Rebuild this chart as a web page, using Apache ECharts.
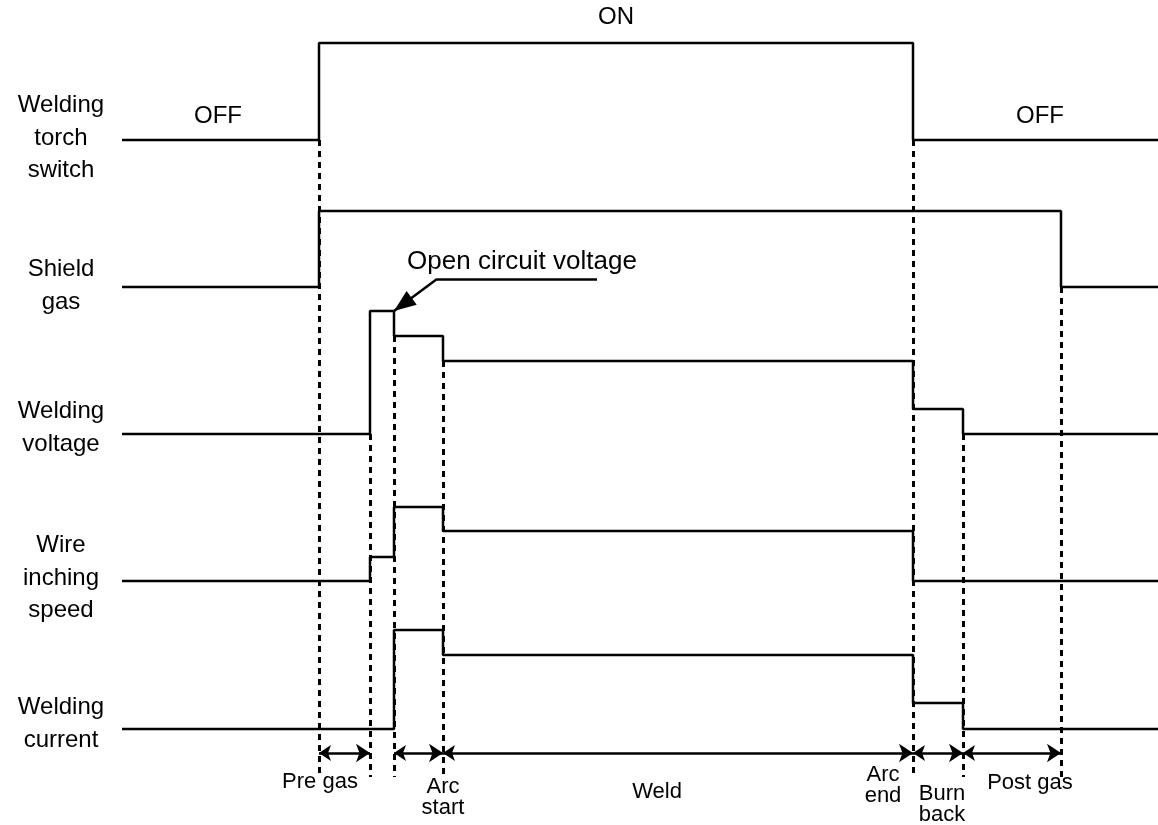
<!DOCTYPE html>
<html>
<head>
<meta charset="utf-8">
<script src="https://cdn.jsdelivr.net/npm/echarts@6/dist/echarts.min.js"></script>
<style>
html,body{margin:0;padding:0;background:#fff;}
#chart{width:1158px;height:825px;}
</style>
</head>
<body>
<div id="chart"></div>
<script>
// Event times (horizontal time axis, arbitrary units)
const eventTimes = [122, 319, 370, 394, 443, 913, 963, 1061, 1158];
// Row baselines (vertical position of each signal's zero level)
const rowBaselines = [685, 538, 391, 244, 96];
const rowNames = ['Welding\ntorch\nswitch', 'Shield\ngas', 'Welding\nvoltage', 'Wire\ninching\nspeed', 'Welding\ncurrent'];
// Signal levels from each event time onwards (step)
const torchSwitch    = [0, 97, 97, 97, 97, 0, 0, 0, 0];
const shieldGas      = [0, 76, 76, 76, 76, 76, 76, 0, 0];
const weldingVoltage = [0, 0, 123, 98, 73, 25, 0, 0, 0];
const wireSpeed      = [0, 0, 24, 74, 50, 0, 0, 0, 0];
const weldingCurrent = [0, 0, 0, 99, 74, 26, 0, 0, 0];
// Dashed guide lines: event index and top value
const guideEvents = [1, 2, 3, 4, 5, 6, 7];
const guideTops   = [685, 391, 489, 464, 685, 391, 538];
const guideBottom = 48;
// Phase intervals (event index pairs) and labels
const phaseSpans  = [[1, 2], [3, 4], [4, 5], [5, 6], [6, 7]];
const phaseLevel  = 72;
const phaseLabels = ['Pre gas', 'Arc\nstart', 'Weld', 'Arc\nend', 'Burn\nback', 'Post gas'];
// Open circuit voltage pointer
const ocvLeader = [[597, 546], [437, 546]];
const ocvArrow  = [[437, 546], [394, 514]];

const signals = [torchSwitch, shieldGas, weldingVoltage, wireSpeed, weldingCurrent];
const lineStyle = {color: '#000', width: 2.5};

const series = signals.map((lv, r) => ({
  type: 'line', step: 'end', showSymbol: false, animation: false, silent: true,
  lineStyle: lineStyle,
  data: eventTimes.map((t, i) => [t, rowBaselines[r] + lv[i]])
}));

series.push({
  type: 'lines', coordinateSystem: 'cartesian2d', animation: false, silent: true,
  symbol: 'none',
  lineStyle: {color: '#000', width: 3, type: [6, 5], opacity: 1},
  data: guideEvents.map((e, i) => ({coords: [[eventTimes[e], guideTops[i]], [eventTimes[e], guideBottom]]}))
});

series.push({
  type: 'lines', coordinateSystem: 'cartesian2d', animation: false, silent: true,
  symbol: ['arrow', 'arrow'], symbolSize: [12, 14],
  lineStyle: {color: '#000', width: 2.5, opacity: 1},
  data: phaseSpans.map(s => ({coords: [[eventTimes[s[0]], phaseLevel], [eventTimes[s[1]], phaseLevel]]}))
});

// leader line + diagonal shaft
series.push({
  type: 'lines', coordinateSystem: 'cartesian2d', animation: false, silent: true,
  symbol: 'none',
  lineStyle: {color: '#000', width: 2.5, opacity: 1},
  data: [{coords: ocvLeader}, {coords: ocvArrow}]
});
// arrow head at the tip of the diagonal pointer
const ax0 = ocvArrow[0], ax1 = ocvArrow[1];
const ang = Math.atan2(ax1[1] - ax0[1], ax1[0] - ax0[0]);
const headLen = 22;
const headCenter = [ax1[0] - Math.cos(ang) * headLen / 2, ax1[1] - Math.sin(ang) * headLen / 2];
series.push({
  type: 'scatter', animation: false, silent: true,
  symbol: 'triangle', symbolSize: [17, headLen],
  symbolRotate: ang * 180 / Math.PI - 90,
  itemStyle: {color: '#000', opacity: 1},
  data: [headCenter]
});

const chart = echarts.init(document.getElementById('chart'), null, {renderer: 'canvas'});
const FONT = '"Liberation Sans", Arial, sans-serif';

const textEl = (txt, x, y, size, lh) => ({
  type: 'text', silent: true,
  style: {text: txt, x: x, y: y, fill: '#000', font: size + 'px ' + FONT,
          textAlign: 'center', textVerticalAlign: 'middle', lineHeight: lh || size}
});

chart.setOption({
  backgroundColor: '#fff',
  animation: false,
  grid: {left: 0, right: 0, top: 0, bottom: 0},
  xAxis: {type: 'value', min: 0, max: 1158, show: false},
  yAxis: {type: 'value', min: 0, max: 825, show: false},
  series: series
});

const labelX = 61;
const rowTextY = [138, 286, 428, 578, 724];
const rowLH = 32.5;
const graphics = [];
rowNames.forEach((n, i) => graphics.push(textEl(n, labelX, rowTextY[i], 24, rowLH)));
graphics.push(textEl('OFF', 218, 116, 24));
graphics.push(textEl('ON', 616, 17, 24));
graphics.push(textEl('OFF', 1040, 116, 24));
graphics.push(textEl('Open circuit voltage', 522, 262, 26));
const phaseTextPos = [[320, 782], [443, 797], [657, 792], [883, 785], [942, 804], [1030, 783]];
phaseLabels.forEach((t, i) => graphics.push(textEl(t, phaseTextPos[i][0], phaseTextPos[i][1], 22, 21)));
chart.setOption({graphic: {elements: graphics}});
</script>
</body>
</html>
